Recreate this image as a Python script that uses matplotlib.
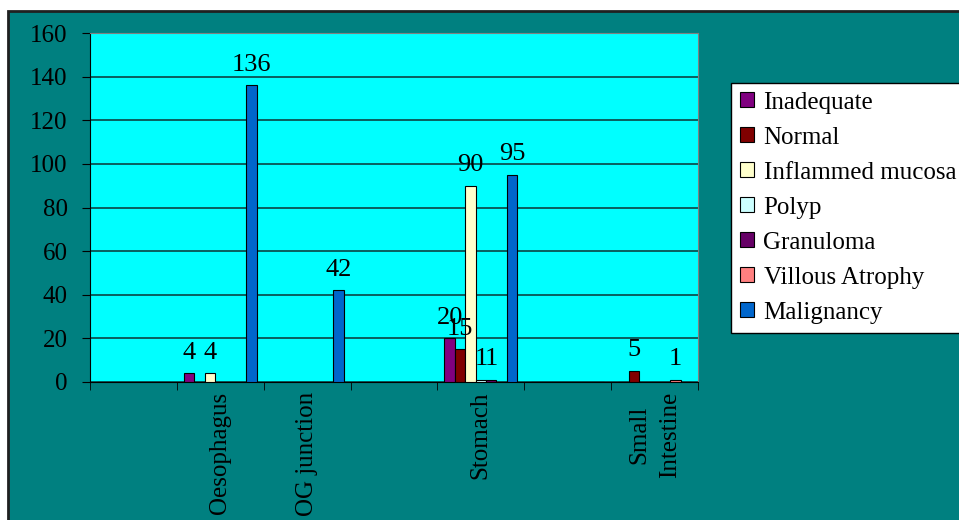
import numpy as np
import matplotlib
matplotlib.use('Agg')
import matplotlib.pyplot as plt
from matplotlib.patches import Rectangle

plt.rcParams['font.family'] = ['Liberation Serif', 'DejaVu Serif']

categories = ['', 'Oesophagus', 'OG junction', '', 'Stomach', '', 'Small\nIntestine']
series_names = ['Inadequate', 'Normal', 'Inflammed mucosa', 'Polyp',
                'Granuloma', 'Villous Atrophy', 'Malignancy']
inadequate = [0, 4, 0, 0, 20, 0, 0]
normal = [0, 0, 0, 0, 15, 0, 5]
inflamed = [0, 4, 0, 0, 90, 0, 0]
polyp = [0, 0, 0, 0, 1, 0, 0]
granuloma = [0, 0, 0, 0, 1, 0, 0]
villous = [0, 0, 0, 0, 0, 0, 1]
malignancy = [0, 136, 42, 0, 95, 0, 0]
colors = ['#800080', '#800000', '#FFFFCC', '#CCFFFF', '#660066', '#FF8080', '#0066CC']

series = [inadequate, normal, inflamed, polyp, granuloma, villous, malignancy]

fig = plt.figure(figsize=(9.59, 5.2), dpi=100, facecolor='white')

# Teal chart area with black border, behind everything
fig.patches.append(Rectangle((8 / 959, -0.01), 1.0, 0.989, transform=fig.transFigure,
                             facecolor='#008080', edgecolor='#202020', linewidth=2,
                             zorder=-10))

ax = fig.add_axes([90 / 959, 138 / 520, 608 / 959, 349 / 520])
ax.set_facecolor('#00FFFF')

x = np.arange(len(categories))
width = 0.12
for i, (vals, name, c) in enumerate(zip(series, series_names, colors)):
    pos = x + (i - 3) * width
    ax.bar(pos, vals, width, color=c, edgecolor='black', linewidth=0.8,
           label=name, zorder=3)
    for xp, v in zip(pos, vals):
        if v:
            ax.annotate(str(v), (xp, v), xytext=(0, 7), textcoords='offset points',
                        ha='center', va='bottom', fontsize=19, zorder=4)

ax.set_xlim(-0.5, len(categories) - 0.5)
ax.set_ylim(0, 160)
ax.set_yticks(range(0, 161, 20))
ax.yaxis.grid(True, color='#0b4444', linewidth=1.2, zorder=1)
ax.set_axisbelow(True)

ax.set_xticks(x)
ax.set_xticklabels(categories, rotation=90, fontsize=18, va='top', ha='center',
                   linespacing=1.5)
ax.set_xticks(np.arange(-0.5, len(categories)), minor=True)
ax.tick_params(axis='x', which='major', length=0, pad=7)
ax.tick_params(axis='x', which='minor', length=6, direction='out', color='black')
ax.tick_params(axis='y', length=6, direction='out', labelsize=18, pad=10, color='black')

for side in ['top', 'right']:
    ax.spines[side].set_color('#808080')
for side in ['left', 'bottom']:
    ax.spines[side].set_color('black')

leg = fig.legend(loc='upper left', bbox_to_anchor=(731 / 959, 1 - 83 / 520),
                 fontsize=18, frameon=True, fancybox=False, edgecolor='black',
                 facecolor='white', framealpha=1, handlelength=0.55, handleheight=0.55,
                 handletextpad=0.4, labelspacing=0.52, borderpad=0.35,
                 borderaxespad=0)
leg.get_frame().set_linewidth(1)

fig.savefig('out.png', dpi=100, facecolor=fig.get_facecolor())
